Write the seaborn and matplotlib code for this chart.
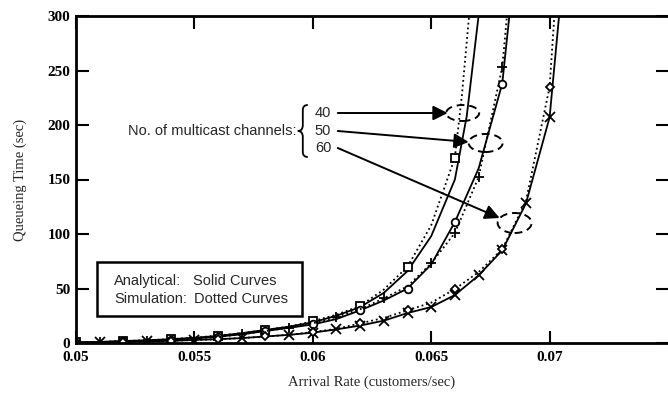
import matplotlib
matplotlib.use("Agg")
import matplotlib.pyplot as plt
from matplotlib.patches import Ellipse, Rectangle, PathPatch
from matplotlib.path import Path
import seaborn as sns
import numpy as np

sns.set_theme(style="white")
plt.rcParams['font.family'] = ['Liberation Serif', 'DejaVu Serif']

# ---------------- data ----------------
x_grid = [0.050, 0.051, 0.052, 0.053, 0.054, 0.055, 0.056, 0.057, 0.058, 0.059,
          0.060, 0.061, 0.062, 0.063, 0.064, 0.065, 0.066, 0.067, 0.068, 0.069, 0.070]

ch40_ana_x = x_grid[:17] + [0.0665, 0.0670, 0.0672]
ch40_ana_y = [0.5, 1.0, 1.8, 2.5, 3.5, 4.8, 6.5, 9, 12, 15, 19, 25, 33, 46, 66, 98, 150,
              208, 300, 340]
ch40_sim_x = x_grid[:17] + [0.0663, 0.0666, 0.0668]
ch40_sim_y = [0.5, 1.0, 1.8, 2.5, 3.5, 4.8, 6.8, 9, 12, 15, 20, 26, 34, 49, 70, 108, 170,
              228, 300, 350]
ch50_ana_x = x_grid[:19] + [0.0683, 0.0685]
ch50_ana_y = [0.4, 0.8, 1.5, 2.2, 3.0, 4.2, 5.8, 8, 11, 14, 17, 22, 30, 39, 50, 72, 111,
              160, 238, 300, 340]
ch50_sim_x = x_grid[:19] + [0.0682, 0.0684]
ch50_sim_y = [0.4, 0.8, 1.5, 2.2, 3.0, 4.2, 5.8, 8, 11, 14, 18, 24, 31, 41, 52, 73, 101,
              152, 253, 300, 340]
ch60_ana_x = x_grid[:21] + [0.0704, 0.0706]
ch60_ana_y = [0.3, 0.6, 1.0, 1.5, 2.0, 2.8, 3.5, 4.5, 6, 7.5, 9.5, 12.5, 16, 20.5, 27.5,
              33, 44, 62, 85, 128, 207, 300, 350]
ch60_sim_x = x_grid[:21] + [0.0702, 0.0704]
ch60_sim_y = [0.3, 0.6, 1.0, 1.5, 2.0, 2.8, 3.5, 4.5, 6, 7.5, 10, 13, 18, 23, 30, 37,
              49.5, 65, 86, 130, 235, 300, 350]

# x positions where symbols are drawn on each curve
marks_40_sim = [0.050, 0.052, 0.054, 0.056, 0.058, 0.060, 0.062, 0.064, 0.066]
marks_50_ana = [0.050, 0.052, 0.054, 0.056, 0.058, 0.060, 0.062, 0.064, 0.066, 0.068]
marks_50_sim = [0.051, 0.053, 0.055, 0.057, 0.059, 0.061, 0.063, 0.065, 0.066, 0.067, 0.068]
marks_60_ana = [0.051, 0.053, 0.055, 0.057, 0.059, 0.060, 0.061, 0.062, 0.063, 0.064,
                0.065, 0.066, 0.067, 0.068, 0.069, 0.070]
marks_60_sim = [0.050, 0.052, 0.054, 0.056, 0.058, 0.060, 0.062, 0.064, 0.066, 0.068, 0.070]

x_ticks = [0.05, 0.055, 0.06, 0.065, 0.07]
x_tick_labels = ["0.05", "0.055", "0.06", "0.065", "0.07"]
y_ticks = [0, 50, 100, 150, 200, 250, 300]
channel_labels = ["40", "50", "60"]

# ---------------- figure ----------------
fig = plt.figure(figsize=(6.68, 3.97), dpi=100)
ax = fig.add_axes([76/668, 1-343/397, 1-76/668, (343-16)/397])


def idx(xs, marks):
    return [i for i, v in enumerate(xs) if any(abs(v - m) < 1e-9 for m in marks)]


series = [
    (ch40_ana_x, ch40_ana_y, '-', None, []),
    (ch40_sim_x, ch40_sim_y, ':', 's', marks_40_sim),
    (ch50_ana_x, ch50_ana_y, '-', 'o', marks_50_ana),
    (ch50_sim_x, ch50_sim_y, ':', '+', marks_50_sim),
    (ch60_ana_x, ch60_ana_y, '-', 'x', marks_60_ana),
    (ch60_sim_x, ch60_sim_y, ':', 'D', marks_60_sim),
]
for xs, ys, ls, mk, marks in series:
    kw = dict(color='black', linewidth=1.3, linestyle=ls)
    if mk is not None:
        kw.update(marker=mk, markevery=idx(xs, marks), markersize=7 if mk in '+x' else 5.5,
                  markerfacecolor='white', markeredgecolor='black', markeredgewidth=1.3)
        if mk == 'D':
            kw['markersize'] = 4.5
    sns.lineplot(x=xs, y=ys, ax=ax, sort=False, estimator=None, **kw)

ax.set_xlim(0.05, 0.075)
ax.set_ylim(0, 300)
ax.set_xticks(x_ticks)
ax.set_xticklabels(x_tick_labels)
ax.set_yticks(y_ticks)
for lab in ax.get_xticklabels() + ax.get_yticklabels():
    lab.set_fontweight('bold')
    lab.set_fontsize(11)
ax.tick_params(direction='in', length=9, width=1.5, top=True, right=True,
               left=True, bottom=True, colors='black', pad=6)
ax.tick_params(axis='y', pad=4)
for s in ['left', 'top', 'bottom']:
    ax.spines[s].set_linewidth(2)
    ax.spines[s].set_color('black')
ax.spines['right'].set_visible(False)
ax.grid(False)

ax.set_xlabel("Arrival Rate (customers/sec)", fontsize=10.5, labelpad=8)
ax.set_ylabel("Queueing Time (sec)", fontsize=10.5, labelpad=15)


# ---------------- annotations ----------------
def px2d(px, py):
    return 0.05 + (px - 76) / 118.5 * 0.005, (343 - py) / 54.5 * 50


sans = ['Liberation Sans', 'DejaVu Sans']
FS = 10.5
tx, ty = px2d(297, 131)
ax.text(tx, ty, "No. of multicast channels:", family=sans, fontsize=FS,
        ha='right', va='center')

# curly brace
bpts = [(308, 105), (303, 105), (303, 110), (303, 115),
        (303, 125), (303, 131), (298, 131),
        (303, 131), (303, 137),
        (303, 147), (303, 152), (303, 157), (308, 157)]
bcodes = [Path.MOVETO, Path.CURVE3, Path.CURVE3, Path.LINETO,
          Path.LINETO, Path.CURVE3, Path.CURVE3,
          Path.CURVE3, Path.CURVE3,
          Path.LINETO, Path.LINETO, Path.CURVE3, Path.CURVE3]
ax.add_patch(PathPatch(Path([px2d(*p) for p in bpts], bcodes), fill=False,
                       edgecolor='black', lw=1.3))

label_py = [113, 131, 148]
tips = [(448, 113), (469, 142), (500, 218)]
ells = [(463, 113, 33, 16), (486, 143, 34, 18), (515, 223, 34, 20)]
for lab, lpy, tip, el in zip(channel_labels, label_py, tips, ells):
    lx, ly = px2d(315, lpy)
    ax.text(lx, ly, lab, family=sans, fontsize=FS, ha='left', va='center')
    sx, sy = px2d(338, lpy)
    ex, ey = px2d(*tip)
    ax.annotate("", xy=(ex, ey), xytext=(sx, sy),
                arrowprops=dict(arrowstyle='-|>', color='black', lw=1.4,
                                mutation_scale=22, shrinkA=0, shrinkB=0))
    cx, cy = px2d(el[0], el[1])
    ax.add_patch(Ellipse((cx, cy), el[2] / 118.5 * 0.005, el[3] / 54.5 * 50,
                         fill=False, edgecolor='black', lw=1.4, linestyle=(0, (4, 2.5))))

# legend box
fig.patches.append(Rectangle((97/668, 1-316/397), 205/668, 54/397, transform=fig.transFigure,
                             fill=True, facecolor='white', edgecolor='black', lw=1.8,
                             zorder=5))
fig.text(114/668, 1-281/397, "Analytical:", family=sans, fontsize=FS, va='center', zorder=6)
fig.text(193/668, 1-281/397, "Solid Curves", family=sans, fontsize=FS, va='center', zorder=6)
fig.text(114/668, 1-299/397, "Simulation:", family=sans, fontsize=FS, va='center', zorder=6)
fig.text(194/668, 1-299/397, "Dotted Curves", family=sans, fontsize=FS, va='center', zorder=6)

fig.savefig("out.png", dpi=100)
